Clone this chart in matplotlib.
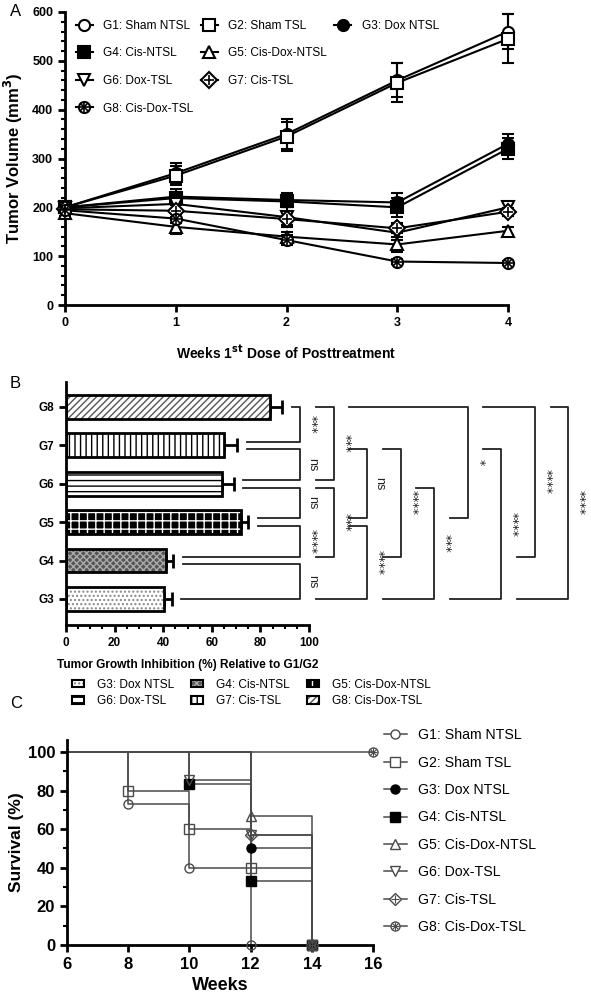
import matplotlib
matplotlib.use('Agg')
import matplotlib.pyplot as plt
import numpy as np
from matplotlib.lines import Line2D
from matplotlib.patches import Patch
from matplotlib.legend_handler import HandlerTuple
from matplotlib.ticker import MultipleLocator

plt.rcParams['font.family'] = ['Liberation Sans', 'DejaVu Sans']
plt.rcParams['hatch.linewidth'] = 1.0

W, H = 591, 999

# ---- panel A: tumor volume ----
group_names = ['G1: Sham NTSL', 'G2: Sham TSL', 'G3: Dox NTSL', 'G4: Cis-NTSL',
               'G5: Cis-Dox-NTSL', 'G6: Dox-TSL', 'G7: Cis-TSL', 'G8: Cis-Dox-TSL']
weeks_a = [0, 1, 2, 3, 4]
g1_vol = [200, 270, 350, 460, 560]
g2_vol = [200, 265, 345, 455, 545]
g3_vol = [200, 222, 215, 210, 330]
g4_vol = [200, 219, 212, 200, 320]
g5_vol = [188, 160, 140, 124, 152]
g6_vol = [198, 207, 180, 148, 200]
g7_vol = [196, 193, 176, 157, 191]
g8_vol = [194, 177, 133, 89, 86]
g1_err = [5, 20, 30, 35, 35]
g2_err = [5, 20, 30, 40, 50]
g3_err = [5, 15, 15, 20, 20]
g4_err = [5, 12, 12, 20, 22]
g5_err = [5, 15, 10, 15, 8]
g6_err = [5, 12, 20, 15, 8]
g7_err = [5, 12, 12, 10, 8]
g8_err = [5, 10, 10, 5, 5]

# ---- panel B: growth inhibition ----
b_groups = ['G3', 'G4', 'G5', 'G6', 'G7', 'G8']
b_inhib = [40.5, 41, 72, 64, 65, 84]
b_err = [3, 3, 3, 5, 5.5, 5]
comparisons = [('G8', 'G7', '***'), ('G7', 'G6', 'ns'), ('G6', 'G5', 'ns'),
               ('G5', 'G4', '****'), ('G4', 'G3', 'ns'),
               ('G8', 'G6', '***'), ('G6', 'G4', '***'), ('G7', 'G5', 'ns'),
               ('G5', 'G3', '****'),
               ('G7', 'G4', '****'), ('G6', 'G3', '***'), ('G8', 'G5', '*'),
               ('G7', 'G3', '****'), ('G8', 'G4', '****'), ('G8', 'G3', '****')]

# ---- panel C: survival ----
g1_t, g1_s = [6, 8, 10, 12], [100, 73.3, 40, 0]
g2_t, g2_s = [6, 8, 10, 12, 14], [100, 80, 60, 40, 0]
g3_t, g3_s = [6, 12, 14], [100, 50, 0]
g4_t, g4_s = [6, 10, 12, 14], [100, 83.3, 33.3, 0]
g5_t, g5_s = [6, 12, 14], [100, 66.7, 0]
g6_t, g6_s = [6, 10, 12, 14], [100, 85.7, 57.1, 0]
g7_t, g7_s = [6, 12, 14], [100, 57.1, 0]
g8_t, g8_s = [6, 16], [100, 100]

# marker styles: (base marker, filled, overlay markers)
styles = [('o', False, []), ('s', False, []), ('o', True, []), ('s', True, []),
          ('^', False, []), ('v', False, []), ('D', False, ['+']), ('o', False, ['+', 'x'])]
overlay = HandlerTuple(ndivide=1)


def px_axes(l, t, r, b):
    return fig.add_axes([l / W, 1 - b / H, (r - l) / W, (b - t) / H])


def draw_marked(ax, x, y, style, ms, color, lw, mew, **kw):
    m, filled, over = style
    base, = ax.plot(x, y, color=color, lw=lw, marker=m, ms=ms,
                    mfc=color if filled else 'white', mec=color, mew=mew, **kw)
    hs = [base]
    for om in over:
        o, = ax.plot(x, y, ls='none', marker=om, ms=ms * (0.7 if om == 'x' else 0.95),
                     mec=color, mew=mew * 0.8, zorder=kw.get('zorder', 3) + 0.1)
        hs.append(o)
    return tuple(hs)


def style_axis(ax, lw=2):
    for s in ['top', 'right']:
        ax.spines[s].set_visible(False)
    for s in ['left', 'bottom']:
        ax.spines[s].set_linewidth(lw)
    ax.tick_params(which='major', length=5, width=lw)
    ax.tick_params(which='minor', length=3, width=lw * 0.75)


fig = plt.figure(figsize=(W / 100, H / 100), dpi=100)

# ================= A =================
axA = px_axes(65, 12, 508, 305)
vols = [g1_vol, g2_vol, g3_vol, g4_vol, g5_vol, g6_vol, g7_vol, g8_vol]
errs = [g1_err, g2_err, g3_err, g4_err, g5_err, g6_err, g7_err, g8_err]
handlesA = []
for v, e, st in zip(vols, errs, styles):
    axA.errorbar(weeks_a, v, yerr=e, fmt='none', ecolor='black', elinewidth=1.5,
                 capsize=4, capthick=1.5)
    handlesA.append(draw_marked(axA, weeks_a, v, st, 8, 'black', 1.5, 1.5, zorder=3))
for a in axA.lines + axA.collections:
    a.set_clip_on(False)
axA.set_xlim(0, 4)
axA.set_ylim(0, 600)
axA.set_xticks(weeks_a)
axA.yaxis.set_major_locator(MultipleLocator(100))
axA.yaxis.set_minor_locator(MultipleLocator(20))
style_axis(axA)
axA.tick_params(labelsize=9)
plt.setp(axA.get_xticklabels() + axA.get_yticklabels(), fontweight='bold')
axA.set_ylabel('Tumor Volume (mm$^\\mathbf{3}$)', fontsize=12, fontweight='bold', labelpad=5)
axA.set_xlabel('Weeks 1$^{\\mathbf{st}}$ Dose of Posttreatment', fontsize=10, fontweight='bold', labelpad=11)
blank = Line2D([], [], ls='none')
orderA = [handlesA[0], handlesA[3], handlesA[5], handlesA[7],
          handlesA[1], handlesA[4], handlesA[6], blank,
          handlesA[2], blank, blank, blank]
labA = [group_names[0], group_names[3], group_names[5], group_names[7],
        group_names[1], group_names[4], group_names[6], '',
        group_names[2], '', '', '']
axA.legend(orderA, labA, ncol=3, loc='upper left', bbox_to_anchor=(70 / W, 1 - 14 / H),
           bbox_transform=fig.transFigure, frameon=False, fontsize=8.6,
           handlelength=1.4, handletextpad=0.9, columnspacing=0.6, labelspacing=1.3,
           borderpad=0, handler_map={tuple: overlay})

# ================= B =================
axB = px_axes(66, 382, W, 625)
ppu = 2.43  # px per unit
axB.set_xlim(0, (W - 66) / ppu)
axB.set_ylim(-0.68, 5.65)
ypos = np.arange(len(b_groups))
hatches = ['....', 'xxxxx', '++', '---', '|||', '/////']
faces = ['white', '#555555', 'black', 'white', 'white', 'white']
hcols = ['#888888', '#aaaaaa', 'white', 'black', 'black', '#555555']
for y, v, h, fc, hc in zip(ypos, b_inhib, hatches, faces, hcols):
    axB.barh(y, v, height=0.62, color=fc, edgecolor=hc, hatch=h, lw=0, zorder=2)
    axB.barh(y, v, height=0.62, fill=False, edgecolor='black', lw=2, zorder=3)
axB.errorbar(b_inhib, ypos, xerr=[np.zeros(len(b_err)), b_err], fmt='none', ecolor='black',
             elinewidth=2, capsize=5, capthick=2, zorder=1)
style_axis(axB)
axB.spines['bottom'].set_bounds(0, 100)
axB.set_xticks(np.arange(0, 101, 20))
axB.set_xticks(np.arange(0, 101, 5), minor=True)
axB.set_yticks(ypos)
axB.set_yticklabels(b_groups)
axB.tick_params(labelsize=8.5)
plt.setp(axB.get_xticklabels() + axB.get_yticklabels(), fontweight='bold')
axB.set_xlabel('Tumor Growth Inhibition (%) Relative to G1/G2', fontsize=8.6,
               fontweight='bold')
axB.xaxis.set_label_coords(50 / axB.get_xlim()[1], -0.14)

# significance brackets
pos = dict(zip(b_groups, ypos))
right_end = {g: v + e for g, v, e in zip(b_groups, b_inhib, b_err)}
x0, step, off = 96.3, 13.8, 0.1
cols, vxs = [], []
for i, (a, b, s) in enumerate(comparisons):
    hi, lo = pos[a], pos[b]
    c = 0
    for j in range(i):
        h2, l2 = pos[comparisons[j][0]], pos[comparisons[j][1]]
        if min(hi, h2) > max(lo, l2):
            c = max(c, cols[j] + 1)
    cols.append(c)
    vx = x0 + c * step
    vxs.append(vx)

    def left_end(level, g):
        cand = [right_end[g] + 4]
        for j in range(i):
            h2, l2 = pos[comparisons[j][0]], pos[comparisons[j][1]]
            if cols[j] < c and l2 <= level <= h2:
                cand.append(vxs[j] + 6.5)
        return max(cand)

    yt = hi if hi == ypos.max() else hi - off
    yb = lo if lo == 0 else lo + off
    axB.plot([left_end(hi, a), vx, vx, left_end(lo, b)], [yt, yt, yb, yb],
             color='#222222', lw=1.3, clip_on=False)
    if '*' in s:
        axB.text(vx + 4.6, (yt + yb) / 2, s, rotation=-90, ha='center', va='center',
                 fontsize=9, family='DejaVu Sans', color='#222222')
    else:
        axB.text(vx + 4.9, (yt + yb) / 2, s, rotation=-90, ha='center', va='center',
                 fontsize=9, color='#222222')

# legend B
legB = []
for h, fc, hc in zip(hatches, faces, hcols):
    legB.append((Patch(facecolor=fc, edgecolor=hc, hatch=h, lw=0),
                 Patch(fill=False, edgecolor='black', lw=1.5)))
bnames = group_names[2:]
ordB = [0, 3, 1, 4, 2, 5]
fig.legend([legB[k] for k in ordB], [bnames[k] for k in ordB], ncol=3, loc='upper left',
           bbox_to_anchor=(66 / W, 1 - 673 / H), frameon=False, fontsize=8.6,
           handlelength=1.0, handleheight=0.55, handletextpad=1.1, columnspacing=1.4,
           labelspacing=0.35, borderpad=0, handler_map={tuple: overlay})

# ================= C =================
axC = px_axes(67, 740, 373, 945)
ts = [g1_t, g2_t, g3_t, g4_t, g5_t, g6_t, g7_t, g8_t]
ss = [g1_s, g2_s, g3_s, g4_s, g5_s, g6_s, g7_s, g8_s]
handlesC = []
gray = '#4a4a4a'
for k, (t, s, st) in enumerate(zip(ts, ss, styles)):
    axC.step(t, s, where='post', color=gray, lw=1.1, zorder=2)
    m, filled, over = st
    mc = 'black' if filled else gray
    axC.plot(t[1:], s[1:], ls='none', marker=m, ms=6.5, mfc=mc if filled else 'none',
             mec=mc, mew=1.0, zorder=3)
    for om in over:
        axC.plot(t[1:], s[1:], ls='none', marker=om, ms=6.5 * (0.7 if om == 'x' else 0.95),
                 mec=gray, mew=0.8, zorder=3)
    hl = [Line2D([], [], color=gray, lw=1.1, marker=m, ms=6.5,
                 mfc=mc if filled else 'white', mec=mc, mew=1.0)]
    for om in over:
        hl.append(Line2D([], [], ls='none', marker=om, ms=6.5 * (0.7 if om == 'x' else 0.95),
                         mec=gray, mew=0.8))
    handlesC.append(tuple(hl))
for a in axC.lines:
    a.set_clip_on(False)
axC.set_xlim(6, 16)
axC.set_ylim(0, 106.2)
axC.set_xticks(np.arange(6, 17, 2))
axC.set_yticks(np.arange(0, 101, 20))
axC.yaxis.set_minor_locator(MultipleLocator(10))
style_axis(axC)
axC.tick_params(labelsize=12)
plt.setp(axC.get_xticklabels() + axC.get_yticklabels(), fontweight='bold')
axC.set_xlabel('Weeks', fontsize=13, fontweight='bold', labelpad=4)
axC.set_ylabel('Survival (%)', fontsize=12.5, fontweight='bold', labelpad=3)
fig.legend(handlesC, group_names, loc='upper left', bbox_to_anchor=(377 / W, 1 - 721 / H),
           frameon=False, fontsize=10.2, handlelength=1.6, handletextpad=0.8,
           labelspacing=0.95, borderpad=0, handler_map={tuple: overlay})

# panel letters
for letter, y in [('A', 12), ('B', 384), ('C', 703)]:
    fig.text(10 / W, 1 - y / H, letter, fontsize=12, va='center', ha='left')

fig.savefig('out.png', dpi=100)
